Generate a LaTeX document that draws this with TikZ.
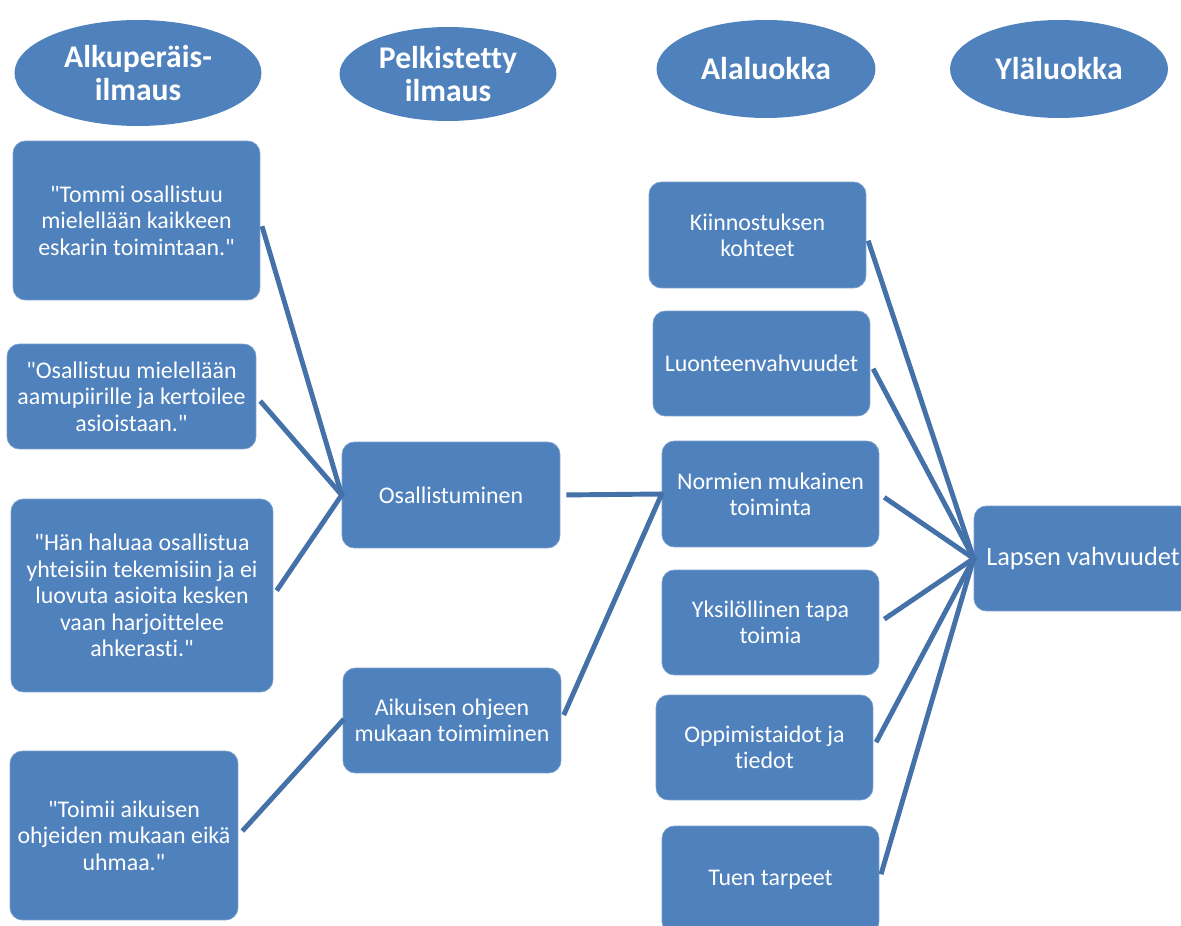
\documentclass[tikz,border=0pt]{standalone}
\usepackage{fontspec}
\setmainfont{Carlito}[Ligatures={TeXOff,NoCommon}]
\usetikzlibrary{shapes.geometric}
\definecolor{boxblue}{RGB}{79,129,189}
\definecolor{lineblue}{RGB}{68,113,168}
\tikzset{
  head/.style={ellipse, fill=boxblue, text=white, inner sep=0pt, align=center,
    font=\fontsize{18}{18.7}\selectfont\bfseries},
  card/.style={rectangle, rounded corners=7pt, fill=boxblue, draw=boxblue!75!white, line width=0.4pt,
    text=white, inner sep=0pt, align=center, font=\fontsize{13.6}{15}\selectfont},
  conn/.style={draw=lineblue, line width=2.8pt, shorten <=3.4pt, shorten >=-1pt}
}
\begin{document}
\begin{tikzpicture}[x=0.02cm, y=-0.02cm]
  \useasboundingbox (0,0) rectangle (1181,926);
  % otsikot
  \draw
    (138,73) node[head, minimum width=4.94cm, minimum height=2.12cm] (e1) {Alkuperäis-\\ilmaus}
    (448,74) node[head, minimum width=4.34cm, minimum height=1.88cm] (e2) {Pelkistetty\\ilmaus}
    (766,69) node[head, minimum width=4.38cm, minimum height=1.96cm] (e3) {Alaluokka}
    (1059,69) node[head, minimum width=4.36cm, minimum height=1.96cm] (e4) {Yläluokka};
  % alkuperäisilmaukset
  \draw
    (136.5,220.5) node[card, minimum width=4.94cm, minimum height=3.18cm] (b1)
      {"Tommi osallistuu\\mielellään kaikkeen\\eskarin toimintaan."}
    (131.5,396.5) node[card, minimum width=4.98cm, minimum height=2.10cm] (b2)
      {"Osallistuu mielellään\\aamupiirille ja kertoilee\\asioistaan."}
    (142,595.5) node[card, minimum width=5.24cm, minimum height=3.86cm] (b3)
      {"Hän haluaa osallistua\\yhteisiin tekemisiin ja ei\\luovuta asioita kesken\\vaan harjoittelee\\ahkerasti."}
    (124,835.5) node[card, minimum width=4.56cm, minimum height=3.38cm] (b4)
      {"Toimii aikuisen\\ohjeiden mukaan eikä\\uhmaa."};
  % pelkistetyt
  \draw
    (451,495) node[card, minimum width=4.36cm, minimum height=2.12cm] (m1) {Osallistuminen}
    (452,720.5) node[card, minimum width=4.36cm, minimum height=2.10cm] (m2) {Aikuisen ohjeen\\mukaan toimiminen};
  % alaluokat
  \draw
    (757.5,235) node[card, minimum width=4.34cm, minimum height=2.12cm] (a1) {Kiinnostuksen\\kohteet}
    (761.5,363.5) node[card, minimum width=4.34cm, minimum height=2.10cm] (a2) {Luonteenvahvuudet}
    (770.5,494) node[card, minimum width=4.34cm, minimum height=2.12cm] (a3) {Normien mukainen\\toiminta}
    (770.5,622.5) node[card, minimum width=4.34cm, minimum height=2.10cm] (a4) {Yksilöllinen tapa\\toimia}
    (764.5,747.5) node[card, minimum width=4.34cm, minimum height=2.10cm] (a5) {Oppimistaidot ja\\tiedot}
    (770.5,880) node[card, minimum width=4.34cm, minimum height=2.16cm] (a6) {Tuen tarpeet};
  % yläluokka
  \draw
    (1083,558.5) node[card, minimum width=4.36cm, minimum height=2.10cm,
      font=\fontsize{15}{17}\selectfont] (r) {Lapsen vahvuudet};
  \begin{scope}[conn]
    \draw (b1.east) to (m1.west);
    \draw (b2.east) to (m1.west);
    \draw (b3.east) to (m1.west);
    \draw (b4.east) to (m2.west);
    \draw (m1.east) to (a3.west);
    \draw (m2.east) to (a3.west);
    \draw (a1.east) to (r.west);
    \draw (a2.east) to (r.west);
    \draw (a3.east) to (r.west);
    \draw (a4.east) to (r.west);
    \draw (a5.east) to (r.west);
    \draw (a6.east) to (r.west);
  \end{scope}
\end{tikzpicture}
\end{document}
